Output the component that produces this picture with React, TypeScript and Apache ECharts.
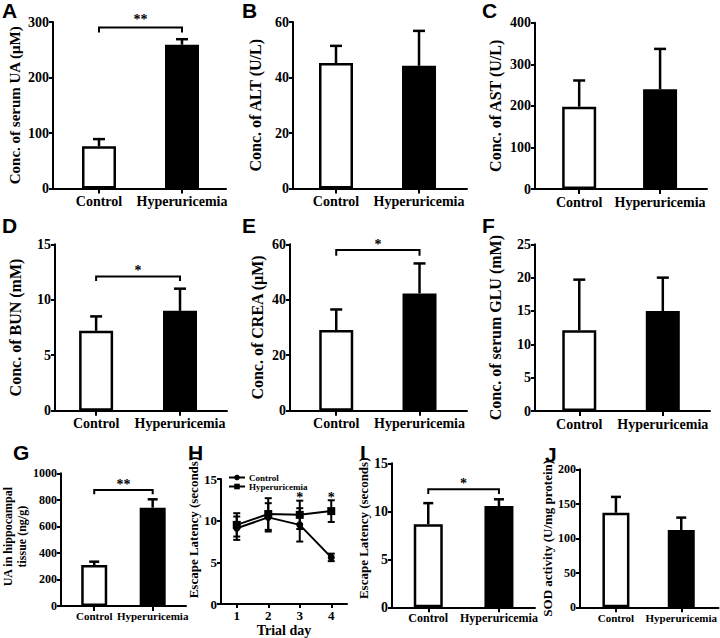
import React, { useEffect, useRef } from "react";
import * as echarts from "echarts";

// ---------- data ----------
const groups = ["Control", "Hyperuricemia"];

const serumUA = [76, 259];
const serumUAErr = [13, 10];
const serumUASig = [290, 281];

const alt = [45.2, 44.2];
const altErr = [6.2, 12.6];

const ast = [198, 240];
const astErr = [63, 97];

const bun = [7.2, 9.0];
const bunErr = [1.3, 2.0];
const bunSig = [12.1, 11.7];

const crea = [29.1, 42.3];
const creaErr = [7.4, 10.8];
const creaSig = [57.9, 55.9];

const glu = [12.1, 15.0];
const gluErr = [7.6, 5.0];

const hippUA = [309, 741];
const hippUAErr = [25, 63];
const hippUASig = [874, 842];

const trialDays = ["1", "2", "3", "4"];
const latencyControl = [9.1, 10.4, 9.5, 5.6];
const latencyControlErr = [1.4, 1.7, 2.0, 0.45];
const latencyHyper = [9.5, 10.8, 10.7, 11.15];
const latencyHyperErr = [1.4, 1.9, 1.7, 1.3];
const latencyStars = ["", "", "*", "*"];

const meanLatency = [8.65, 10.55];
const meanLatencyErr = [2.2, 0.7];
const meanLatencySig = [12.3, 11.8];

const sod = [137, 112];
const sodErr = [23, 18];

// ---------- layout / style ----------
const FONT = '"Liberation Serif", "Times New Roman", serif';
const SANS = '"Liberation Sans", Arial, sans-serif';
const INK = "#000";

type Panel = {
  grid: any;
  xRange: number[];
  yMax: number;
  yStep: number;
  means: number[];
  errs: number[];
  sig?: number[];
  mark?: string;
  starGap?: number;
  name: string;
  nameGap: number;
  nameSize: number;
  nameLineHeight?: number;
  nameShift?: number;
  tickSize: number;
  catSize: number;
  catMargin: number;
  barWidth: number;
  cap: number;
};

const barPanels: Panel[] = [
  { grid: { left: 53, top: 22, width: 173, height: 166.5 }, xRange: [0.446, 2.53], yMax: 300, yStep: 100, means: serumUA, errs: serumUAErr, sig: serumUASig, mark: "**", starGap: 8.5, name: "Conc. of serum UA (μM)", nameGap: 30.5, nameSize: 15, tickSize: 14, catSize: 14, catMargin: 6, barWidth: 34, cap: 12 },
  { grid: { left: 293, top: 22, width: 174, height: 166.5 }, xRange: [0.482, 2.578], yMax: 60, yStep: 20, means: alt, errs: altErr, name: "Conc. of ALT (U/L)", nameGap: 30, nameSize: 16, tickSize: 14, catSize: 14, catMargin: 6, barWidth: 34, cap: 12 },
  { grid: { left: 535, top: 22.7, width: 172, height: 166.3 }, xRange: [0.454, 2.58], yMax: 400, yStep: 100, means: ast, errs: astErr, name: "Conc. of AST (U/L)", nameGap: 32, nameSize: 16, tickSize: 14, catSize: 14, catMargin: 6, barWidth: 34, cap: 12 },
  { grid: { left: 55, top: 244.3, width: 172, height: 166.4 }, xRange: [0.51, 2.56], yMax: 15, yStep: 5, means: bun, errs: bunErr, sig: bunSig, mark: "*", starGap: 6, name: "Conc. of BUN (mM)", nameGap: 32, nameSize: 16, tickSize: 14, catSize: 14, catMargin: 6, barWidth: 34, cap: 12 },
  { grid: { left: 290, top: 244.3, width: 177, height: 166.4 }, xRange: [0.445, 2.57], yMax: 60, yStep: 20, means: crea, errs: creaErr, sig: creaSig, mark: "*", starGap: 6, name: "Conc. of CREA (μM)", nameGap: 25, nameSize: 16, tickSize: 14, catSize: 14, catMargin: 6, barWidth: 34, cap: 12 },
  { grid: { left: 535, top: 244.3, width: 175, height: 166.7 }, xRange: [0.47, 2.565], yMax: 25, yStep: 5, means: glu, errs: gluErr, name: "Conc. of serum GLU (mM)", nameGap: 32, nameSize: 16, tickSize: 14, catSize: 14, catMargin: 6, barWidth: 34, cap: 12 },
  { grid: { left: 49, top: 473.3, width: 137, height: 132.7 }, xRange: [0.43, 2.57], yMax: 1000, yStep: 200, means: hippUA, errs: hippUAErr, sig: hippUASig, mark: "**", starGap: 6, name: "UA in hippocampal\ntissue (ng/g)", nameGap: 22, nameSize: 12, nameLineHeight: 14, nameShift: 6, tickSize: 12, catSize: 11, catMargin: 4, barWidth: 26, cap: 10 },
  { grid: { left: 392, top: 463.3, width: 143, height: 144 }, xRange: [0.487, 2.51], yMax: 15, yStep: 5, means: meanLatency, errs: meanLatencyErr, sig: meanLatencySig, mark: "*", starGap: 6, name: "Escape Latency (seconds)", nameGap: 19.5, nameSize: 13, nameShift: 14, tickSize: 14, catSize: 12, catMargin: 5, barWidth: 29, cap: 10 },
  { grid: { left: 580, top: 469.3, width: 140, height: 138 }, xRange: [0.45, 2.57], yMax: 200, yStep: 50, means: sod, errs: sodErr, name: "SOD activity (U/mg protein)", nameGap: 26.5, nameSize: 13, tickSize: 12, catSize: 11, catMargin: 5, barWidth: 27, cap: 10 },
];

const lineGrid = { left: 221, top: 479, width: 126, height: 126 };

const letters = [
  { t: "A", x: 2, y: 0 },
  { t: "B", x: 242, y: 0 },
  { t: "C", x: 482, y: 0 },
  { t: "D", x: 2, y: 215 },
  { t: "E", x: 242, y: 215 },
  { t: "F", x: 482, y: 215 },
  { t: "G", x: 13, y: 442 },
  { t: "H", x: 188, y: 442 },
  { t: "I", x: 360, y: 442 },
  { t: "J", x: 545, y: 444 },
];

function textStyle(size: number) {
  return { fontFamily: FONT, fontWeight: "bold", fontSize: size, color: INK };
}

function starText(x: number, y: number, s: string) {
  return {
    type: "text",
    x,
    y,
    style: { text: s, fontFamily: FONT, fontWeight: "bold", fontSize: 14, fill: INK, stroke: null, opacity: 1, align: "center", verticalAlign: "middle" },
  };
}

function errorRenderer(capW: number, both: boolean, lw: number, stars?: string[]) {
  return (params: any, api: any) => {
    const x = api.value(0);
    const m = api.value(1);
    const e = api.value(2);
    const top = api.coord([x, m + e]);
    const mid = api.coord([x, m]);
    const bot = api.coord([x, m - e]);
    const st = { stroke: INK, lineWidth: lw };
    const children: any[] = [
      { type: "line", shape: { x1: top[0], y1: top[1], x2: top[0], y2: both ? bot[1] : mid[1] }, style: st },
      { type: "line", shape: { x1: top[0] - capW / 2, y1: top[1], x2: top[0] + capW / 2, y2: top[1] }, style: st },
    ];
    if (both) {
      children.push({ type: "line", shape: { x1: bot[0] - capW / 2, y1: bot[1], x2: bot[0] + capW / 2, y2: bot[1] }, style: st });
    }
    const s = stars ? stars[params.dataIndex] : "";
    if (s) children.push(starText(top[0], top[1] - 3, s));
    return { type: "group", children };
  };
}

function bracketRenderer(mark: string, gap: number) {
  return (params: any, api: any) => {
    const yb = api.value(2);
    const yl = api.value(3);
    const p1 = api.coord([api.value(0), yl]);
    const p2 = api.coord([api.value(0), yb]);
    const p3 = api.coord([api.value(1), yb]);
    const p4 = api.coord([api.value(1), yl]);
    return {
      type: "group",
      children: [
        { type: "polyline", shape: { points: [p1, p2, p3, p4] }, style: { stroke: INK, lineWidth: 2, fill: "none" } },
        starText((p2[0] + p3[0]) / 2, p2[1] - gap, mark),
      ],
    };
  };
}

function buildOption() {
  const grids: any[] = [];
  const xAxes: any[] = [];
  const yAxes: any[] = [];
  const series: any[] = [];

  barPanels.forEach((p, i) => {
    grids.push({ ...p.grid, containLabel: false });
    xAxes.push({
      type: "value",
      gridIndex: i,
      min: p.xRange[0],
      max: p.xRange[1],
      axisLine: { show: true, onZero: false, lineStyle: { color: INK, width: 2 } },
      axisTick: { show: true, customValues: [1, 2], length: 5, lineStyle: { color: INK, width: 2 } },
      axisLabel: {
        customValues: [1, 2],
        formatter: (v: number) => groups[Math.round(v) - 1] || "",
        margin: p.catMargin,
        ...textStyle(p.catSize),
      },
      splitLine: { show: false },
    });
    const nameStyle: any = { ...textStyle(p.nameSize) };
    if (p.nameLineHeight) nameStyle.lineHeight = p.nameLineHeight;
    if (p.nameShift) nameStyle.padding = [0, 0, 0, p.nameShift];
    yAxes.push({
      type: "value",
      gridIndex: i,
      min: 0,
      max: p.yMax,
      interval: p.yStep,
      axisLine: { show: true, lineStyle: { color: INK, width: 2 } },
      axisTick: { show: true, length: 4, lineStyle: { color: INK, width: 2 } },
      axisLabel: { margin: 4, formatter: (v: number) => String(v), ...textStyle(p.tickSize) },
      splitLine: { show: false },
      name: p.name,
      nameLocation: "middle",
      nameRotate: 90,
      nameGap: p.nameGap,
      nameTextStyle: nameStyle,
    });
    series.push({
      type: "bar",
      name: "bars" + i,
      xAxisIndex: i,
      yAxisIndex: i,
      barWidth: p.barWidth,
      z: 2,
      data: p.means.map((m, k) => ({
        value: [k + 1, m],
        itemStyle: k === 0
          ? { color: "#fff", borderColor: INK, borderWidth: 2.5 }
          : { color: INK, borderColor: INK, borderWidth: 2.5 },
      })),
    });
    series.push({
      type: "custom",
      name: "err" + i,
      xAxisIndex: i,
      yAxisIndex: i,
      z: 3,
      itemStyle: { color: INK },
      renderItem: errorRenderer(p.cap, false, 2.5),
      encode: { x: 0, y: 1 },
      data: p.means.map((m, k) => [k + 1, m, p.errs[k]]),
    });
    if (p.sig) {
      series.push({
        type: "custom",
        name: "sig" + i,
        xAxisIndex: i,
        yAxisIndex: i,
        z: 4,
        itemStyle: { color: INK },
        renderItem: bracketRenderer(p.mark || "*", p.starGap || 7),
        encode: { x: [0, 1], y: [2, 3] },
        data: [[1, 2, p.sig[0], p.sig[1]]],
      });
    }
  });

  // H line panel
  const h = barPanels.length;
  grids.push({ ...lineGrid });
  xAxes.push({
    type: "category",
    gridIndex: h,
    data: trialDays,
    boundaryGap: true,
    axisLine: { show: true, onZero: false, lineStyle: { color: INK, width: 2 } },
    axisTick: { show: true, alignWithLabel: true, length: 4, lineStyle: { color: INK, width: 2 } },
    axisLabel: { margin: 5, ...textStyle(13) },
    splitLine: { show: false },
    name: "Trial day",
    nameLocation: "middle",
    nameGap: 18,
    nameTextStyle: textStyle(14),
  });
  yAxes.push({
    type: "value",
    gridIndex: h,
    min: 0,
    max: 15,
    interval: 5,
    axisLine: { show: true, lineStyle: { color: INK, width: 2 } },
    axisTick: { show: true, length: 4, lineStyle: { color: INK, width: 2 } },
    axisLabel: { margin: 4, ...textStyle(13) },
    splitLine: { show: false },
    name: "Escape Latency (seconds)",
    nameLocation: "middle",
    nameRotate: 90,
    nameGap: 20.5,
    nameTextStyle: { ...textStyle(13), padding: [0, 0, 0, 28] },
  });
  series.push({
    type: "line",
    name: "Control",
    xAxisIndex: h,
    yAxisIndex: h,
    data: latencyControl,
    symbol: "circle",
    symbolSize: 7,
    lineStyle: { color: INK, width: 2 },
    itemStyle: { color: INK },
    z: 3,
  });
  series.push({
    type: "line",
    name: "Hyperuricemia",
    xAxisIndex: h,
    yAxisIndex: h,
    data: latencyHyper,
    symbol: "rect",
    symbolSize: 8,
    lineStyle: { color: INK, width: 2 },
    itemStyle: { color: INK },
    z: 3,
  });
  series.push({
    type: "custom",
    name: "errHc",
    xAxisIndex: h,
    yAxisIndex: h,
    z: 4,
    itemStyle: { color: INK },
    renderItem: errorRenderer(7, true, 2),
    encode: { x: 0, y: 1 },
    data: latencyControl.map((m, k) => [k, m, latencyControlErr[k]]),
  });
  series.push({
    type: "custom",
    name: "errHh",
    xAxisIndex: h,
    yAxisIndex: h,
    z: 4,
    itemStyle: { color: INK },
    renderItem: errorRenderer(7, true, 2, latencyStars),
    encode: { x: 0, y: 1 },
    data: latencyHyper.map((m, k) => [k, m, latencyHyperErr[k]]),
  });

  return {
    animation: false,
    backgroundColor: "#fff",
    grid: grids,
    xAxis: xAxes,
    yAxis: yAxes,
    series,
    legend: {
      data: ["Control", "Hyperuricemia"],
      left: 228,
      top: 473,
      orient: "vertical",
      itemGap: 0,
      itemWidth: 16,
      itemHeight: 7,
      padding: 0,
      selectedMode: false,
      textStyle: { ...textStyle(9), padding: [0, 0, 0, -1] },
    },
    graphic: letters.map((l) => ({
      type: "text",
      x: l.x,
      y: l.y,
      style: { text: l.t, fontFamily: SANS, fontWeight: "bold", fontSize: 21, fill: INK, verticalAlign: "top" },
    })),
  };
}

export default function App() {
  const ref = useRef<HTMLDivElement>(null);
  useEffect(() => {
    if (!ref.current) return;
    const chart = echarts.init(ref.current, undefined, { renderer: "svg" });
    chart.setOption(buildOption() as any);
    return () => chart.dispose();
  }, []);
  return (
    <div
      ref={ref}
      style={{ position: "absolute", left: 0, top: 0, width: 720, height: 638, background: "#fff" }}
    />
  );
}
